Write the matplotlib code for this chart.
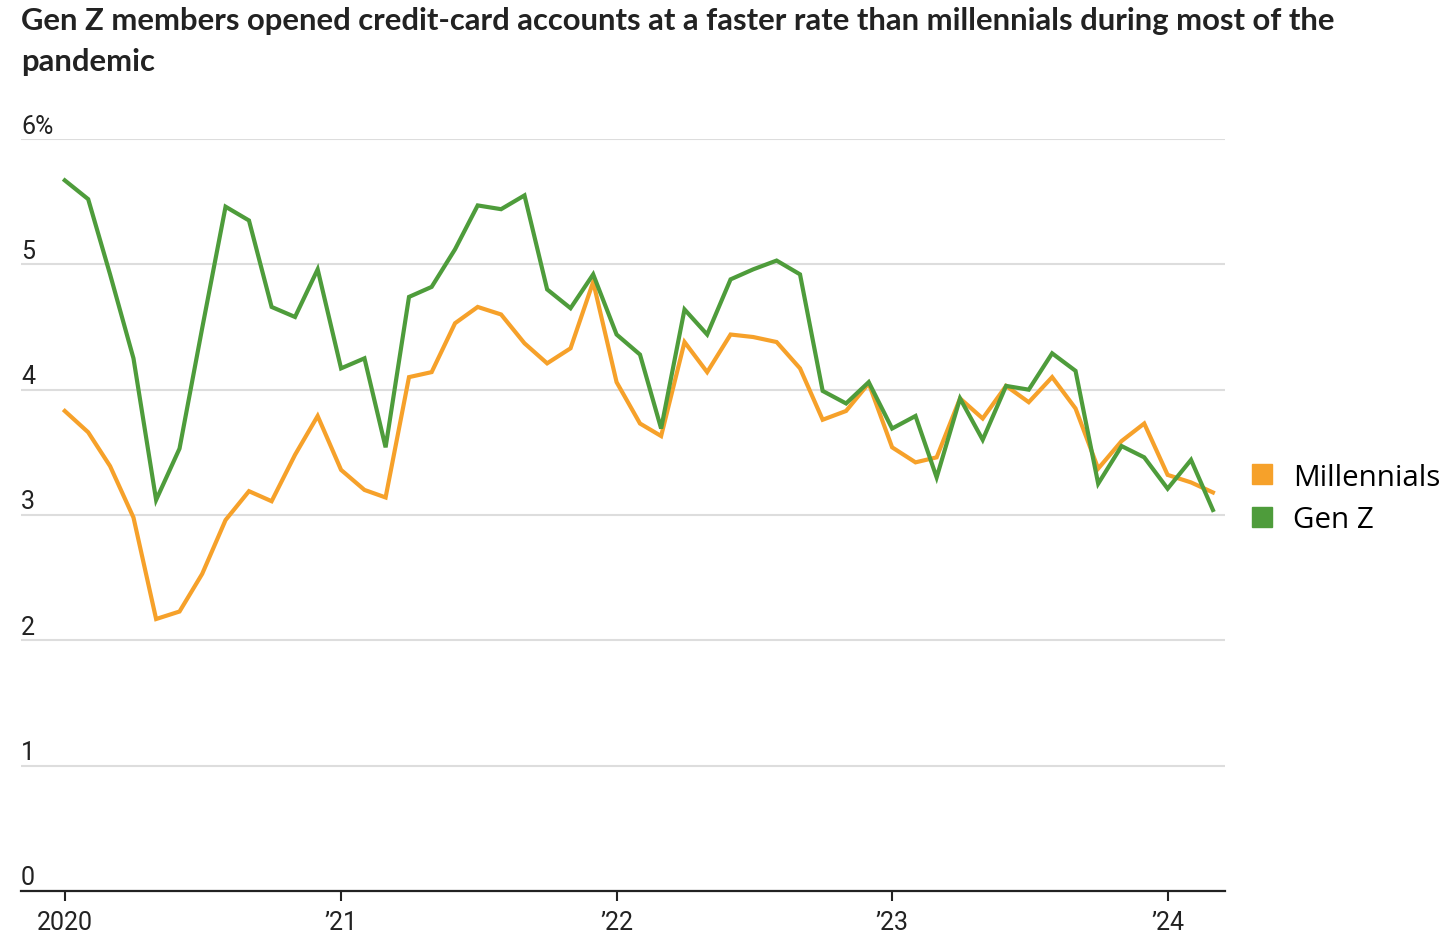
import matplotlib
matplotlib.use("Agg")
import matplotlib.pyplot as plt
import matplotlib.transforms as mtransforms
from matplotlib import font_manager
from matplotlib.lines import Line2D
import pandas as pd

# monthly values, Jan 2020 - Mar 2024
months = pd.date_range("2020-01-01", "2024-03-01", freq="MS")

millennials = [3.83, 3.66, 3.39, 2.98, 2.17, 2.23, 2.53, 2.96, 3.19, 3.11, 3.48, 3.79,
               3.36, 3.20, 3.14, 4.10, 4.14, 4.53, 4.66, 4.60, 4.37, 4.21, 4.33, 4.86,
               4.06, 3.73, 3.63, 4.38, 4.14, 4.44, 4.42, 4.38, 4.17, 3.76, 3.83, 4.05,
               3.54, 3.42, 3.46, 3.93, 3.77, 4.03, 3.90, 4.10, 3.85, 3.37, 3.59, 3.73,
               3.32, 3.26, 3.18]
gen_z = [5.67, 5.52, 4.92, 4.25, 3.12, 3.53, 4.49, 5.46, 5.35, 4.66, 4.58, 4.96,
         4.17, 4.25, 3.54, 4.74, 4.82, 5.12, 5.47, 5.44, 5.55, 4.80, 4.65, 4.92,
         4.44, 4.28, 3.69, 4.64, 4.44, 4.88, 4.96, 5.03, 4.92, 3.99, 3.89, 4.06,
         3.69, 3.79, 3.30, 3.93, 3.60, 4.03, 4.00, 4.29, 4.15, 3.25, 3.55, 3.46,
         3.21, 3.44, 3.04]

y_ticks = [0, 1, 2, 3, 4, 5, 6]
y_tick_labels = ["0", "1", "2", "3", "4", "5", "6%"]
x_ticks = pd.to_datetime(["2020-01-01", "2021-01-01", "2022-01-01", "2023-01-01", "2024-01-01"])
x_tick_labels = ["2020", "\u201921", "\u201922", "\u201923", "\u201924"]

title = ("Gen Z members opened credit-card accounts at a faster rate than millennials during most of the\n"
         "pandemic")

ORANGE = "#f6a12a"
GREEN = "#4e9c3b"

installed = {f.name for f in font_manager.fontManager.ttflist}
narrow = "Liberation Sans Narrow" if "Liberation Sans Narrow" in installed else "Roboto"
plt.rcParams["font.family"] = ["Lato", "DejaVu Sans"]

fig = plt.figure(figsize=(14.56, 9.45), dpi=100)
ax = fig.add_axes([21 / 1456, 1 - 892 / 945, (1225 - 21) / 1456, (892 - 140) / 945])

ax.plot(months, millennials, color=ORANGE, lw=3, solid_joinstyle="miter", zorder=3)
ax.plot(months, gen_z, color=GREEN, lw=3, solid_joinstyle="miter", zorder=3)

ax.set_ylim(0, 6)
ax.set_xlim(pd.Timestamp("2019-11-04"), pd.Timestamp("2024-03-17"))

ax.set_yticks(y_ticks)
ax.set_yticklabels(y_tick_labels, fontfamily=narrow, fontsize=18, color="#222222")
ax.tick_params(axis="y", length=0, pad=0)
offset = mtransforms.ScaledTranslation(0, 1.5 / 100, fig.dpi_scale_trans)
for lab in ax.get_yticklabels():
    lab.set_horizontalalignment("left")
    lab.set_verticalalignment("bottom")
    lab.set_transform(lab.get_transform() + offset)

ax.set_xticks(x_ticks)
ax.set_xticklabels(x_tick_labels, fontfamily=narrow, fontsize=18, color="#222222")
ax.tick_params(axis="x", length=7, width=1.5, color="#222222", pad=7)

ax.grid(axis="y", color="#dddddd", lw=1.5)
ax.set_axisbelow(True)
for side in ["top", "right", "left"]:
    ax.spines[side].set_visible(False)
ax.spines["bottom"].set_color("#222222")
ax.spines["bottom"].set_linewidth(1.6)
ax.spines["bottom"].set_zorder(4)

handles = [Line2D([], [], ls="none", marker="s", markersize=14.5, color=ORANGE),
           Line2D([], [], ls="none", marker="s", markersize=14.5, color=GREEN)]
ax.legend(handles, ["Millennials", "Gen Z"], loc="center left", bbox_to_anchor=(1.0, 0.522),
          frameon=False, handlelength=1.0, handletextpad=0.55, labelspacing=0.45,
          borderpad=0, borderaxespad=0.75, prop={"family": ["Open Sans", "DejaVu Sans"], "size": 21.3})

fig.text(21 / 1456, 1 - 7 / 945, title, ha="left", va="top", fontsize=22.3, fontweight="bold",
         color="#222222", linespacing=1.55)

fig.savefig("out.png", dpi=100)
